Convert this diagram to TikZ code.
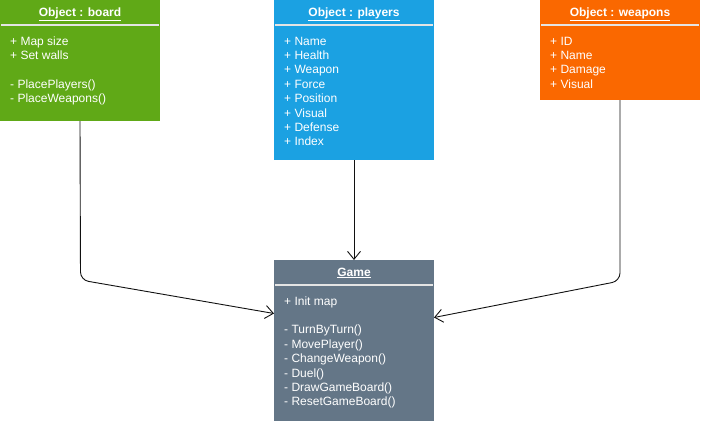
\documentclass[tikz,border=0pt]{standalone}
\usepackage{fontspec}
\setmainfont{Liberation Sans}
\usetikzlibrary{arrows.meta}
\begin{document}
\begin{tikzpicture}[x=1pt,y=-1pt,
  classbox/.style={anchor=north west,inner sep=0pt,outer sep=0pt,minimum width=160pt},
  classtitle/.style={white,font=\fontsize{12}{14.4}\selectfont\bfseries,anchor=base,inner sep=0pt},
  classbody/.style={white,font=\fontsize{12}{14.4}\selectfont,align=left,anchor=north west,inner sep=0pt},
  classsep/.style={customcolor4,line width=1.2pt},
  link/.style={customcolor5,line width=0.9pt,rounded corners=8pt,-{Straight Barb[length=8pt,width=13pt,line width=0.9pt]}}]
\definecolor{customcolor0}{HTML}{60A917}
\definecolor{customcolor1}{HTML}{1BA1E2}
\definecolor{customcolor2}{HTML}{FA6800}
\definecolor{customcolor3}{HTML}{647687}
\definecolor{customcolor4}{HTML}{E4E4E4}
\definecolor{customcolor5}{HTML}{111111}
\useasboundingbox (0,0) rectangle (701,421);
% boxes
\node[classbox,fill=customcolor0,minimum height=121pt] (board) at (0,0) {};
\node[classbox,fill=customcolor1,minimum height=160pt] (players) at (274,0) {};
\node[classbox,fill=customcolor2,minimum height=100pt] (weapons) at (540,0) {};
\node[classbox,fill=customcolor3,minimum height=161pt] (game) at (274,260) {};
% titles
\node[classtitle] (boardtitle) at (80,16) {\underline{Object : board}};
\node[classtitle] (playerstitle) at (354,16) {\underline{Object : players}};
\node[classtitle] (weaponstitle) at (620,16) {\underline{Object : weapons}};
\node[classtitle] (gametitle) at (354,276) {\underline{Game}};
\draw[classsep] (1,25) -- (159,25);
\draw[classsep] (275,25) -- (433,25);
\draw[classsep] (541,25) -- (699,25);
\draw[classsep] (275,285) -- (433,285);
% members
\node[classbody] (boardbody) at (10,34.9) {\strut+ Map size\\+ Set walls\\[14.4pt]- PlacePlayers()\\- PlaceWeapons()};
\node[classbody] (playersbody) at (284,34.9) {\strut+ Name\\+ Health\\+ Weapon\\+ Force\\+ Position\\+ Visual\\+ Defense\\+ Index};
\node[classbody] (weaponsbody) at (550,34.9) {\strut+ ID\\+ Name\\+ Damage\\+ Visual};
\node[classbody] (gamebody) at (284,294.9) {\strut+ Init map\\[14.4pt]- TurnByTurn()\\- MovePlayer()\\- ChangeWeapon()\\- Duel()\\- DrawGameBoard()\\- ResetGameBoard()};
% links
\coordinate (boardbend) at (80.5,280);
\coordinate (weaponsbend) at (620,281);
\draw[link] (board.south) -- (boardbend) -- ([yshift=27pt]game.west);
\draw[link] (players.south) -- (game.north);
\draw[link] (weapons.south) -- (weaponsbend) -- ([yshift=23pt]game.east);
\end{tikzpicture}
\end{document}
